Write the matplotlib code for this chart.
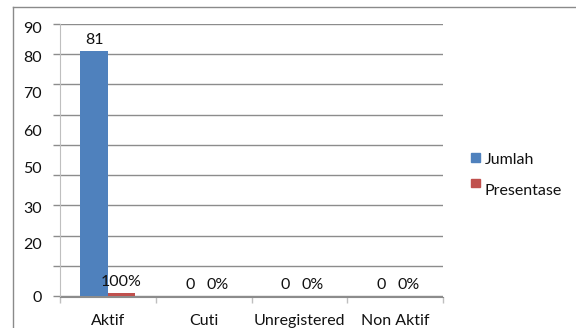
import matplotlib
matplotlib.use("Agg")
import matplotlib.pyplot as plt
from matplotlib.patches import Rectangle
from matplotlib.lines import Line2D

# Data
categories = ["Aktif", "Cuti", "Unregistered", "Non Aktif"]
jumlah = [81, 0, 0, 0]
presentase = [1.00, 0.00, 0.00, 0.00]  # fraction of total
jumlah_labels = ["81", "0", "0", "0"]
presentase_labels = ["100%", "0%", "0%", "0%"]
ytick_labels = ["90", "80", "70", "60", "50", "30", "20", "0"]

# Layout
W, H = 576, 328
FONT = ["Lato", "DejaVu Sans"]
FS = 11.5
BLUE = "#4F81BD"
RED = "#C0504D"
GRID = "#8C8C8C"
AXIS = "#BFBFBF"
TXT = "#111111"
ytick_label_pos = [89.0, 79.1, 67.3, 54.7, 42.5, 29.3, 17.5, -0.3]

fig = plt.figure(figsize=(W / 100, H / 100), dpi=100)
fig.patch.set_facecolor("white")

def fx(px):
    return px / W

def fy(py):
    return 1 - py / H

ax = fig.add_axes([fx(60), fy(297), fx(443) - fx(60), fy(24) - fy(297)])
ax.set_xlim(-0.5, len(categories) - 0.5)
ax.set_ylim(0, 90)

bw = 0.286
x = list(range(len(categories)))
xb = [i - bw / 2 for i in x]
xr = [i + bw / 2 for i in x]
ax.bar(xb, jumlah, width=bw, color=BLUE, zorder=3)
ax.bar(xr, presentase, width=bw, color=RED, zorder=3)

for xi, v, s in zip(xb, jumlah, jumlah_labels):
    ax.annotate(s, (xi, v), xytext=(0, 3), textcoords="offset points",
                ha="center", va="bottom", fontsize=FS, family=FONT, color=TXT)
for xi, v, s in zip(xr, presentase, presentase_labels):
    ax.annotate(s, (xi, v), xytext=(0, 3), textcoords="offset points",
                ha="center", va="bottom", fontsize=FS, family=FONT, color=TXT)

# gridlines and axes
for s in ["top", "right"]:
    ax.spines[s].set_visible(False)
ax.spines["left"].set_color(AXIS)
ax.spines["bottom"].set_color(GRID)
ax.yaxis.grid(True, color=GRID, linewidth=1.0, zorder=0)
ax.set_yticks(range(0, 91, 10), [""] * 10)
ax.tick_params(axis="y", which="major", length=5, color=GRID, width=1.0)
ax.set_yticks(ytick_label_pos, ytick_labels, minor=True)
ax.tick_params(axis="y", which="minor", length=0, pad=13)
for t in ax.get_yticklabels(minor=True):
    t.set_fontsize(FS)
    t.set_family(FONT)
    t.set_color(TXT)

ax.set_xticks([i - 0.5 for i in range(len(categories) + 1)], [""] * (len(categories) + 1))
ax.tick_params(axis="x", which="major", length=4, color=AXIS, width=1.0)
ax.set_xticks(x, categories, minor=True)
ax.tick_params(axis="x", which="minor", length=0, pad=12)
for t in ax.get_xticklabels(minor=True):
    t.set_fontsize(FS)
    t.set_family(FONT)
    t.set_color(TXT)

# legend
fig.patches.append(Rectangle((fx(471), fy(162)), fx(9), fy(153) - fy(162),
                             transform=fig.transFigure, color=BLUE))
fig.patches.append(Rectangle((fx(471), fy(187)), fx(9), fy(179) - fy(187),
                             transform=fig.transFigure, color=RED))
fig.text(fx(485), fy(160), "Jumlah", ha="left", va="center", fontsize=FS,
         family=FONT, color=TXT)
fig.text(fx(485), fy(191), "Presentase", ha="left", va="center", fontsize=FS,
         family=FONT, color=TXT)

# chart frame
fig.lines.append(Line2D([fx(13), fx(13)], [fy(7), 0], transform=fig.transFigure,
                        color="#8A8A8A", linewidth=1.0))
fig.lines.append(Line2D([fx(13), 1], [fy(7), fy(7)], transform=fig.transFigure,
                        color="#8A8A8A", linewidth=1.0))

fig.savefig("out.png", dpi=100)
